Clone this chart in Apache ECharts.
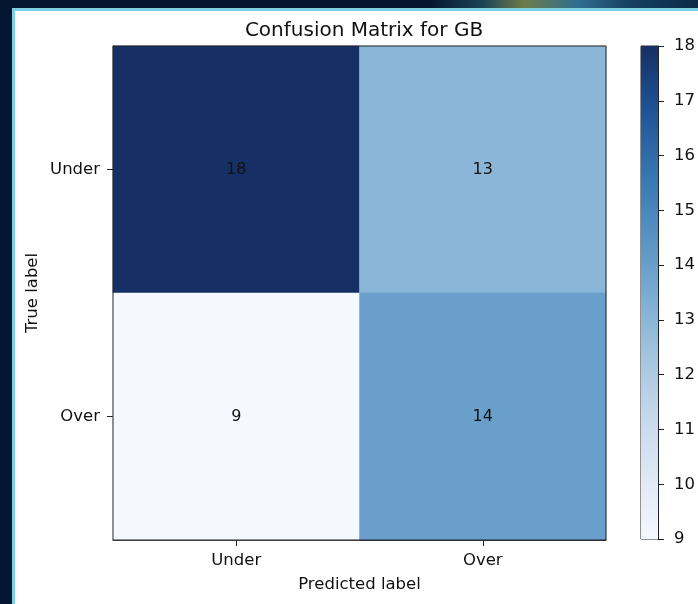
<!DOCTYPE html>
<html>
<head>
<meta charset="utf-8">
<script src="https://cdn.jsdelivr.net/npm/echarts@6/dist/echarts.min.js"></script>
<style>
  html, body { margin: 0; padding: 0; width: 698px; height: 604px; overflow: hidden; background: #041631; }
  #frame { position: absolute; left: 12px; top: 8px; width: 686px; height: 596px; background: #ffffff;
           border-left: 3px solid #7fd0e6; border-top: 3px solid #7fd0e6; box-sizing: border-box; }
  #glow { position: absolute; left: 430px; top: 0; width: 268px; height: 8px;
          background: linear-gradient(90deg, #041631 0%, #1d4456 20%, #6e7c4a 35%, #2f6f90 55%, #163e60 75%, #0b2a48 100%); }
  #chart { position: absolute; left: 0; top: 0; width: 698px; height: 604px; }
</style>
</head>
<body>
<div id="glow"></div>
<div id="frame"></div>
<div id="chart"></div>
<script>
const categories = ['Under', 'Over'];
const matrix = [
  [18, 13],
  [9, 14]
];
const colorbarTicks = [9, 10, 11, 12, 13, 14, 15, 16, 17, 18];
const vMin = 9, vMax = 18;
const blues = ['#f5f8fe', '#dfe8f4', '#c6d8ec', '#a2c4df', '#79abd1', '#5490c2', '#3573b0', '#1e5295', '#163066'];

const heatData = [];
matrix.forEach((row, r) => row.forEach((v, c) => heatData.push([c, r, v])));

const font = 'DejaVu Sans';
const txt = '#111';
const chart = echarts.init(document.getElementById('chart'), null, { renderer: 'canvas' });
chart.setOption({
  backgroundColor: 'transparent',
  animation: false,
  textStyle: { fontFamily: font },
  title: {
    text: 'Confusion Matrix for GB',
    left: 359, top: 16, textAlign: 'center',
    textStyle: { fontFamily: font, fontSize: 20, fontWeight: 'normal', color: txt }
  },
  grid: [
    { left: 113, top: 46, width: 493, height: 494, show: true, borderColor: '#222', borderWidth: 1, backgroundColor: 'transparent', z: 5 },
    { left: 641, top: 46, width: 26, height: 493, show: true, borderColor: '#222', borderWidth: 1, backgroundColor: 'transparent' }
  ],
  xAxis: [
    {
      type: 'category', gridIndex: 0, data: categories,
      name: 'Predicted label', nameLocation: 'middle', nameGap: 36, nameMoveOverlap: false,
      nameTextStyle: { fontFamily: font, fontSize: 16.5, color: txt },
      axisLine: { show: true, lineStyle: { color: '#222', width: 1 } },
      axisTick: { show: true, alignWithLabel: true, length: 6, lineStyle: { color: '#222' } },
      axisLabel: { fontFamily: font, fontSize: 16.5, color: txt, margin: 12 },
      splitLine: { show: false }
    },
    {
      type: 'category', gridIndex: 1, data: ['cb'], show: false
    }
  ],
  yAxis: [
    {
      type: 'category', gridIndex: 0, data: categories, inverse: true,
      name: 'True label', nameLocation: 'middle', nameGap: 72, nameRotate: 90, nameMoveOverlap: false,
      nameTextStyle: { fontFamily: font, fontSize: 16.5, color: txt },
      axisLine: { show: true, lineStyle: { color: '#222', width: 1 } },
      axisTick: { show: true, alignWithLabel: true, length: 6, lineStyle: { color: '#222' } },
      axisLabel: { fontFamily: font, fontSize: 16.5, color: txt, margin: 13 },
      splitLine: { show: false }
    },
    {
      type: 'value', gridIndex: 1, position: 'right', min: vMin, max: vMax, interval: 1,
      axisLine: { show: true, lineStyle: { color: '#222', width: 1 } },
      axisTick: { show: true, length: 6, lineStyle: { color: '#222' } },
      axisLabel: { fontFamily: font, fontSize: 16.5, color: txt, margin: 16,
        formatter: v => colorbarTicks.indexOf(v) >= 0 ? String(v) : '' },
      splitLine: { show: false }
    }
  ],
  visualMap: {
    type: 'continuous', show: false, min: vMin, max: vMax, seriesIndex: 0, dimension: 2,
    inRange: { color: blues }
  },
  series: [
    {
      type: 'heatmap', xAxisIndex: 0, yAxisIndex: 0, data: heatData,
      label: { show: true, fontFamily: font, fontSize: 16, color: txt },
      itemStyle: { borderWidth: 0 },
      emphasis: { disabled: true }
    },
    {
      type: 'bar', xAxisIndex: 1, yAxisIndex: 1, data: [vMax], barWidth: '100%', clip: true,
      itemStyle: {
        color: {
          type: 'linear', x: 0, y: 0, x2: 0, y2: 1,
          colorStops: blues.slice().reverse().map((c, i, a) => ({ offset: i / (a.length - 1), color: c }))
        }
      },
      silent: true
    }
  ]
});
</script>
</body>
</html>
